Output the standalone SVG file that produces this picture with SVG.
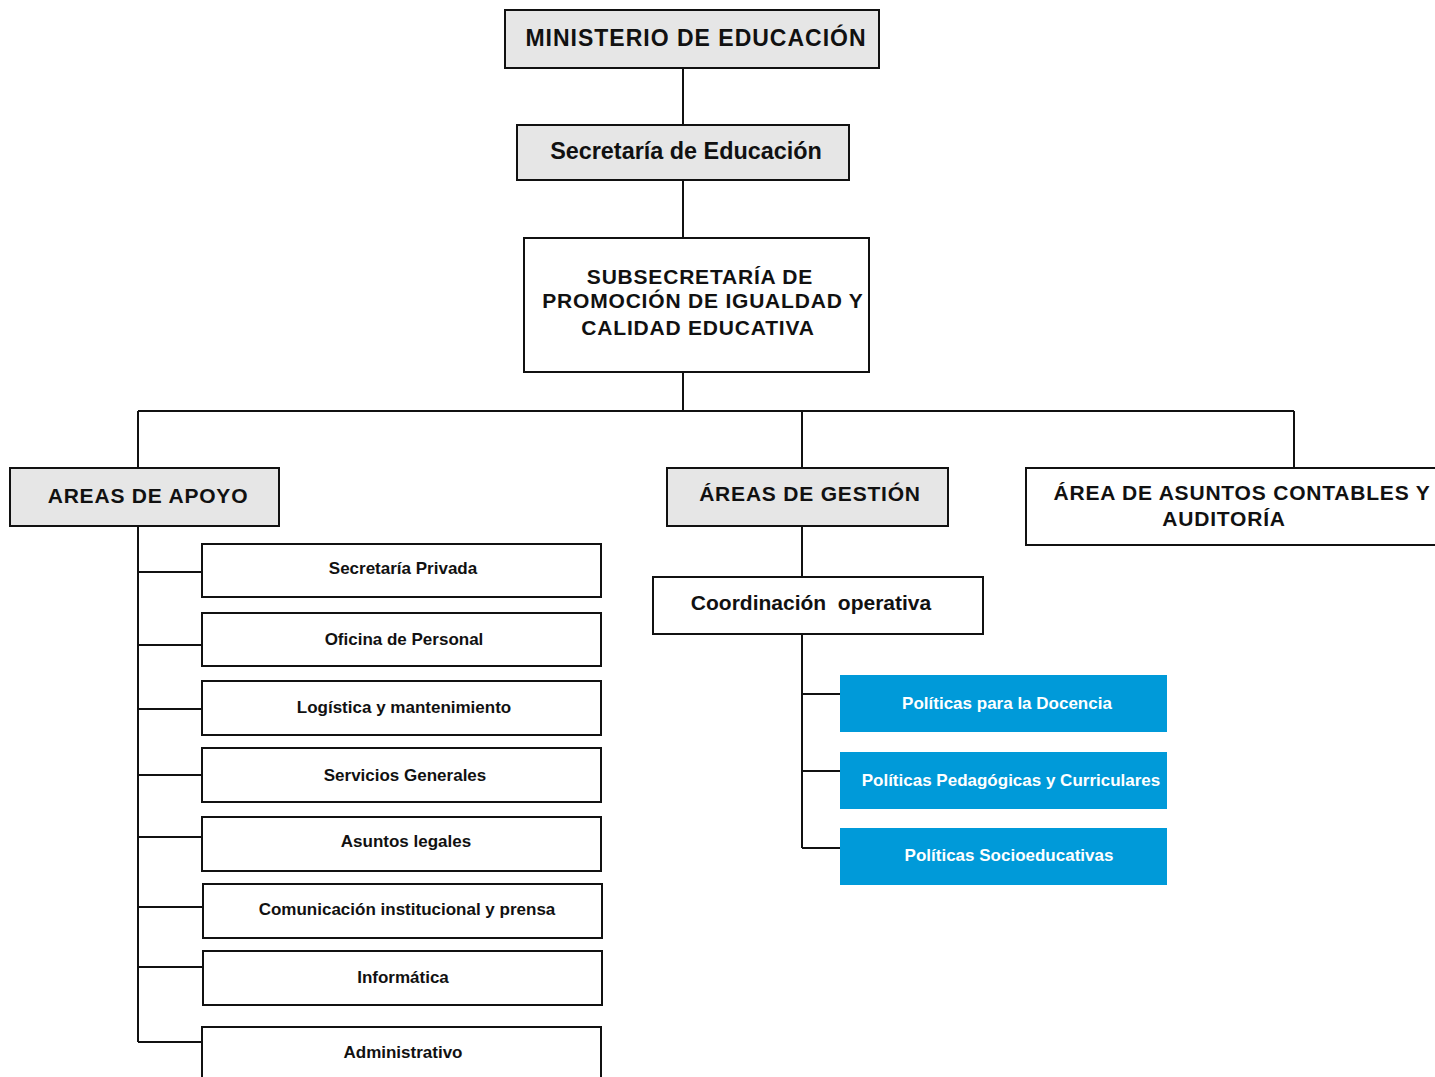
<svg xmlns="http://www.w3.org/2000/svg" width="1435" height="1077" viewBox="0 0 1435 1077">
<style>
text{font-family:"Liberation Sans",Arial,sans-serif;font-weight:bold;fill:#111;text-anchor:middle}
.g{fill:#e6e6e6;stroke:#111;stroke-width:2}
.w{fill:#fff;stroke:#111;stroke-width:2}
.b{fill:#009ad9}
.bt{fill:#fff;font-size:17px}
.s{font-size:17px}
.m{font-size:21px;letter-spacing:0.8px}
.c{stroke:#111;stroke-width:2;fill:none}
</style>
<rect width="1435" height="1077" fill="#fff"/>
<g id="connectors">
<path class="c" d="M683 68V125M683 180V238M683 372V411M138 411H1294M138 411V468M802 411V468M1294 411V468M802 526V577M802 634V848M802 694H840M802 771H840M802 848H840M138 526V1042M138 572H202M138 645H202M138 709H202M138 775H202M138 837H202M138 907H203M138 967H203M138 1042H202"/>
</g>
<g id="ministerio"><rect class="g" x="505" y="10" width="374" height="58"/><text x="696" y="46" style="font-size:23px;letter-spacing:1px">MINISTERIO DE EDUCACIÓN</text></g>
<g id="secretaria"><rect class="g" x="517" y="125" width="332" height="55"/><text x="686" y="159" style="font-size:23.4px">Secretaría de Educación</text></g>
<g id="subsecretaria"><rect class="w" x="524" y="238" width="345" height="134"/><text class="m" x="700" y="284">SUBSECRETARÍA DE</text><text class="m" x="703" y="308">PROMOCIÓN DE IGUALDAD Y</text><text class="m" x="698" y="335">CALIDAD EDUCATIVA</text></g>
<g id="apoyo"><rect class="g" x="10" y="468" width="269" height="58"/><text class="m" x="148" y="503">AREAS DE APOYO</text></g>
<g id="gestion"><rect class="g" x="667" y="468" width="281" height="58"/><text class="m" x="810" y="501">ÁREAS DE GESTIÓN</text></g>
<g id="contables"><rect class="w" x="1026" y="468" width="420" height="77"/><text class="m" x="1242" y="500">ÁREA DE ASUNTOS CONTABLES Y</text><text class="m" x="1224" y="526">AUDITORÍA</text></g>
<g id="coordinacion"><rect class="w" x="653" y="577" width="330" height="57"/><text x="811" y="610" style="font-size:21px" xml:space="preserve">Coordinación  operativa</text></g>
<g id="docencia"><rect class="b" x="840" y="675" width="327" height="57"/><text class="bt" x="1007" y="709">Políticas para la Docencia</text></g>
<g id="pedagogicas"><rect class="b" x="840" y="752" width="327" height="57"/><text class="bt" x="1011" y="786">Políticas Pedagógicas y Curriculares</text></g>
<g id="socioeducativas"><rect class="b" x="840" y="828" width="327" height="57"/><text class="bt" x="1009" y="861">Políticas Socioeducativas</text></g>
<g id="privada"><rect class="w" x="202" y="544" width="399" height="53"/><text class="s" x="403" y="574">Secretaría Privada</text></g>
<g id="personal"><rect class="w" x="202" y="613" width="399" height="53"/><text class="s" x="404" y="645">Oficina de Personal</text></g>
<g id="logistica"><rect class="w" x="202" y="681" width="399" height="54"/><text class="s" x="404" y="713">Logística y mantenimiento</text></g>
<g id="servicios"><rect class="w" x="202" y="748" width="399" height="54"/><text class="s" x="405" y="781">Servicios Generales</text></g>
<g id="legales"><rect class="w" x="202" y="817" width="399" height="54"/><text class="s" x="406" y="847">Asuntos legales</text></g>
<g id="comunicacion"><rect class="w" x="203" y="884" width="399" height="54"/><text class="s" x="407" y="915">Comunicación institucional y prensa</text></g>
<g id="informatica"><rect class="w" x="203" y="951" width="399" height="54"/><text class="s" x="403" y="983">Informática</text></g>
<g id="administrativo"><rect class="w" x="202" y="1027" width="399" height="60"/><text class="s" x="403" y="1058">Administrativo</text></g>
</svg>
